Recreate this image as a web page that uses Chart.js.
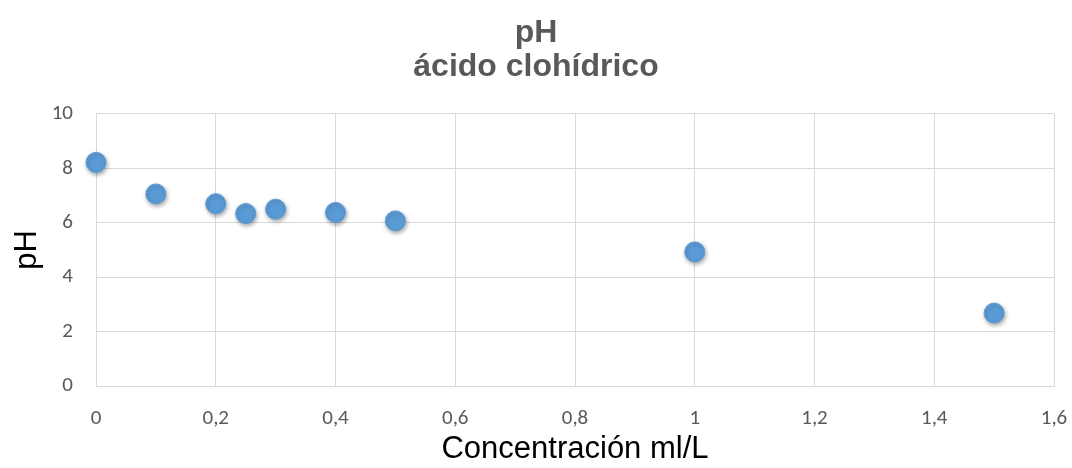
<!DOCTYPE html>
<html lang="es">
<head>
<meta charset="utf-8">
<title>pH ácido clohídrico</title>
<script src="https://cdn.jsdelivr.net/npm/chart.js@4.4.1/dist/chart.umd.min.js"></script>
<style>
  html, body { margin: 0; padding: 0; background: #fff; }
  .chart-wrap { position: relative; width: 1072px; height: 468px; }
</style>
</head>
<body>
<div class="chart-wrap">
  <canvas id="phChart"></canvas>
</div>
<script>
const concentracion = [0, 0.1, 0.2, 0.25, 0.3, 0.4, 0.5, 1, 1.5];
const phValores = [8.22, 7.06, 6.70, 6.34, 6.50, 6.38, 6.07, 4.93, 2.68];
const xTickLabels = ['0', '0,2', '0,4', '0,6', '0,8', '1', '1,2', '1,4', '1,6'];
const yTickLabels = ['0', '2', '4', '6', '8', '10'];
const tituloLineas = ['pH', 'ácido clohídrico'];

const gridColor = '#d9d9d9';
const textGray = '#595959';

// soft drop shadow under the markers, like the spreadsheet default
const markerShadow = {
  id: 'markerShadow',
  beforeDatasetsDraw(chart) {
    const ctx = chart.ctx;
    ctx.save();
    ctx.shadowColor = 'rgba(0, 0, 0, 0.35)';
    ctx.shadowBlur = 4;
    ctx.shadowOffsetX = 1;
    ctx.shadowOffsetY = 2;
  },
  afterDatasetsDraw(chart) {
    chart.ctx.restore();
  }
};

new Chart(document.querySelector('#phChart'), {
  type: 'scatter',
  data: {
    datasets: [
      {
        label: 'pH',
        data: concentracion.map((x, i) => ({ x, y: phValores[i] })),
        backgroundColor: '#5b9bd5',
        borderColor: '#5b9bd5',
        borderWidth: 1,
        pointRadius: 10,
        pointHoverRadius: 10,
        clip: false
      }
    ]
  },
  options: {
    responsive: true,
    maintainAspectRatio: false,
    animation: false,
    layout: { padding: 0 },
    plugins: {
      legend: { display: false },
      tooltip: { enabled: false },
      title: {
        display: true,
        text: tituloLineas,
        color: textGray,
        font: { family: "'Liberation Sans', Arial, sans-serif", size: 32, weight: 'bold', lineHeight: 1.07 },
        padding: { top: 16, bottom: 29.5 }
      }
    },
    scales: {
      x: {
        type: 'linear',
        min: 0,
        max: 1.6,
        ticks: {
          stepSize: 0.2,
          padding: 20,
          color: textGray,
          font: { family: "Calibri, Carlito, 'Open Sans', sans-serif", size: 21 },
          callback: (value, index) => xTickLabels[index]
        },
        grid: { color: gridColor, drawTicks: false },
        border: { color: gridColor },
        title: {
          display: true,
          text: 'Concentración ml/L',
          color: '#000',
          font: { family: "'Liberation Sans', Arial, sans-serif", size: 31, lineHeight: 1.2 },
          padding: { top: 0, bottom: 0 }
        },
        afterFit: (scale) => {
          scale.height = 82;
          scale.paddingRight = 18;
        }
      },
      y: {
        type: 'linear',
        min: 0,
        max: 10,
        ticks: {
          stepSize: 2,
          padding: 23,
          color: textGray,
          font: { family: "Calibri, Carlito, 'Open Sans', sans-serif", size: 21 },
          callback: (value, index) => yTickLabels[index]
        },
        grid: { color: gridColor, drawTicks: false },
        border: { display: false },
        title: {
          display: true,
          text: 'pH',
          color: '#000',
          font: { family: "'Liberation Sans', Arial, sans-serif", size: 31, lineHeight: 1.2 },
          padding: { top: 9, bottom: 0 }
        },
        afterFit: (scale) => { scale.width = 96; }
      }
    }
  },
  plugins: [markerShadow]
});
</script>
</body>
</html>
